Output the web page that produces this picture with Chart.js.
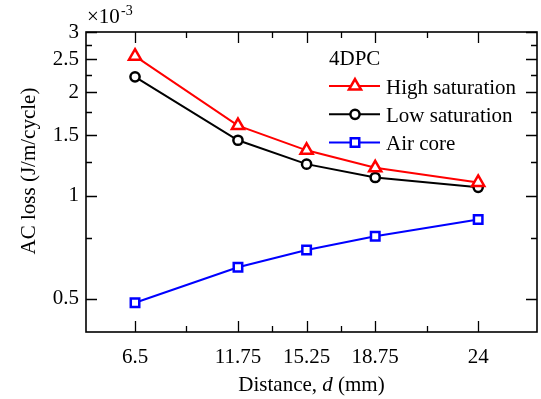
<!DOCTYPE html>
<html>
<head>
<meta charset="utf-8">
<script src="https://cdn.jsdelivr.net/npm/chart.js@4.4.1/dist/chart.umd.min.js"></script>
<style>
  html, body { margin: 0; padding: 0; background: #fff; }
  #wrap { width: 541px; height: 399px; }
</style>
</head>
<body>
<div id="wrap"><canvas id="acLossChart" width="541" height="399"></canvas></div>
<script>
// Distance d (mm)
const distances = [6.5, 11.75, 15.25, 18.75, 24];
// AC loss, in units of 10^-3 J/m/cycle
const highSaturation = [2.55, 1.60, 1.355, 1.205, 1.092];
const lowSaturation = [2.22, 1.45, 1.235, 1.129, 1.057];
const airCore = [0.487, 0.618, 0.694, 0.761, 0.851];

// Axis ticks
const xMajorTicks = [6.5, 11.75, 15.25, 18.75, 24];
const xMinorTicks = [9.125, 13.5, 17, 21.375];
const yMajorTicks = [0.5, 1, 1.5, 2, 2.5, 3];
const yMinorTicks = [0.75, 1.25, 1.75, 2.25, 2.75];

const FONT = '"Liberation Serif", "Times New Roman", serif';

function toPoints(values) {
    return distances.map((d, i) => ({ x: d, y: values[i] }));
}

// Marker drawing for the legend (same shapes as Chart.js points)
function drawMarker(ctx, style, radius, x, y) {
    ctx.beginPath();
    if (style === 'circle') {
        ctx.arc(x, y, radius, 0, Math.PI * 2);
    } else if (style === 'triangle') {
        for (let k = 0; k < 3; k++) {
            const r = k * 2 * Math.PI / 3;
            const px = x + Math.sin(r) * radius, py = y - Math.cos(r) * radius;
            k === 0 ? ctx.moveTo(px, py) : ctx.lineTo(px, py);
        }
        ctx.closePath();
    } else {
        const s = radius / Math.SQRT2;
        ctx.rect(x - s, y - s, 2 * s, 2 * s);
    }
    ctx.fill();
    ctx.stroke();
}

// Frame, inward ticks, axis titles and legend
const framePlugin = {
    id: 'frame',
    afterDraw(chart) {
        const ctx = chart.ctx;
        const a = chart.chartArea;
        const xs = chart.scales.x;
        const ys = chart.scales.y;
        ctx.save();
        ctx.strokeStyle = '#000';

        // ticks pointing inward on all four sides
        ctx.lineWidth = 1.3;
        ctx.beginPath();
        xs.ticks.forEach(t => {
            const px = Math.round(xs.getPixelForValue(t.value)) + 0.5;
            const len = xMajorTicks.includes(t.value) ? 11 : 6;
            ctx.moveTo(px, a.bottom); ctx.lineTo(px, a.bottom - len);
            ctx.moveTo(px, a.top); ctx.lineTo(px, a.top + len);
        });
        ys.ticks.forEach(t => {
            const py = Math.round(ys.getPixelForValue(t.value)) + 0.5;
            const len = yMajorTicks.includes(t.value) ? 11 : 6;
            ctx.moveTo(a.left, py); ctx.lineTo(a.left + len, py);
            ctx.moveTo(a.right, py); ctx.lineTo(a.right - len, py);
        });
        ctx.stroke();

        ctx.lineWidth = 1.6;
        ctx.strokeRect(a.left, a.top, a.right - a.left, a.bottom - a.top);

        ctx.fillStyle = '#000';
        ctx.textBaseline = 'alphabetic';

        // exponent label
        ctx.textAlign = 'left';
        ctx.font = '21px ' + FONT;
        ctx.fillText('\u00d710', 87, 23);
        ctx.font = '14px ' + FONT;
        ctx.fillText('-3', 121, 15);

        // x title with italic d
        const parts = [
            ['Distance, ', '21px ' + FONT],
            ['d', 'italic 21px ' + FONT],
            [' (mm)', '21px ' + FONT]
        ];
        let total = 0;
        parts.forEach(p => { ctx.font = p[1]; total += ctx.measureText(p[0]).width; });
        let cx = (a.left + a.right) / 2 - total / 2;
        parts.forEach(p => {
            ctx.font = p[1];
            ctx.fillText(p[0], cx, 391);
            cx += ctx.measureText(p[0]).width;
        });

        // y title
        ctx.save();
        ctx.translate(35, 171);
        ctx.rotate(-Math.PI / 2);
        ctx.textAlign = 'center';
        ctx.font = '21px ' + FONT;
        ctx.fillText('AC loss (J/m/cycle)', 0, 0);
        ctx.restore();

        // legend
        ctx.textAlign = 'left';
        ctx.font = '21px ' + FONT;
        ctx.fillText('4DPC', 329, 65);
        chart.data.datasets.forEach((ds, i) => {
            const y = 86 + i * 28.3;
            ctx.strokeStyle = ds.borderColor;
            ctx.lineWidth = ds.borderWidth;
            ctx.beginPath();
            ctx.moveTo(329, y);
            ctx.lineTo(380, y);
            ctx.stroke();
            ctx.fillStyle = '#fff';
            ctx.strokeStyle = ds.pointBorderColor;
            ctx.lineWidth = ds.pointBorderWidth;
            drawMarker(ctx, ds.pointStyle, ds.pointRadius, 355, y);
            ctx.fillStyle = '#000';
            ctx.font = '21px ' + FONT;
            ctx.fillText(ds.label, 386, y + 7.5);
        });
        ctx.restore();
    }
};

new Chart(document.getElementById('acLossChart'), {
    type: 'line',
    data: {
        datasets: [
            {
                label: 'High saturation',
                data: toPoints(highSaturation),
                borderColor: '#ff0000',
                borderWidth: 2,
                pointStyle: 'triangle',
                pointRadius: 7,
                pointBorderColor: '#ff0000',
                pointBackgroundColor: '#ffffff',
                pointBorderWidth: 2.5
            },
            {
                label: 'Low saturation',
                data: toPoints(lowSaturation),
                borderColor: '#000000',
                borderWidth: 2,
                pointStyle: 'circle',
                pointRadius: 4.6,
                pointBorderColor: '#000000',
                pointBackgroundColor: '#ffffff',
                pointBorderWidth: 2.5
            },
            {
                label: 'Air core',
                data: toPoints(airCore),
                borderColor: '#0000ff',
                borderWidth: 2,
                pointStyle: 'rect',
                pointRadius: 6,
                pointBorderColor: '#0000ff',
                pointBackgroundColor: '#ffffff',
                pointBorderWidth: 2.5
            }
        ]
    },
    options: {
        responsive: false,
        animation: false,
        devicePixelRatio: 1,
        layout: {
            autoPadding: false,
            padding: { top: 32, right: 4, left: 0, bottom: 0 }
        },
        plugins: {
            legend: { display: false },
            tooltip: { enabled: false }
        },
        scales: {
            x: {
                type: 'linear',
                min: 4,
                max: 27,
                grid: { display: false, drawTicks: false },
                border: { display: false },
                afterBuildTicks: scale => {
                    scale.ticks = xMajorTicks.concat(xMinorTicks)
                        .sort((p, q) => p - q)
                        .map(v => ({ value: v }));
                },
                afterFit: scale => {
                    scale.height = 67;
                    scale.paddingLeft = 0;
                    scale.paddingRight = 0;
                },
                ticks: {
                    autoSkip: false,
                    maxRotation: 0,
                    padding: 13,
                    color: '#000',
                    font: { family: FONT, size: 21 },
                    callback: v => xMajorTicks.includes(v) ? String(v) : ''
                }
            },
            y: {
                type: 'logarithmic',
                min: 0.4,
                max: 3,
                grid: { display: false, drawTicks: false },
                border: { display: false },
                afterBuildTicks: scale => {
                    scale.ticks = yMajorTicks.concat(yMinorTicks)
                        .sort((p, q) => p - q)
                        .map(v => ({ value: v }));
                },
                afterFit: scale => {
                    scale.width = 86;
                    scale.paddingTop = 0;
                    scale.paddingBottom = 0;
                },
                ticks: {
                    autoSkip: false,
                    padding: 7,
                    color: '#000',
                    font: { family: FONT, size: 21 },
                    callback: v => yMajorTicks.includes(v) ? String(v) : ''
                }
            }
        }
    },
    plugins: [framePlugin]
});
</script>
</body>
</html>
